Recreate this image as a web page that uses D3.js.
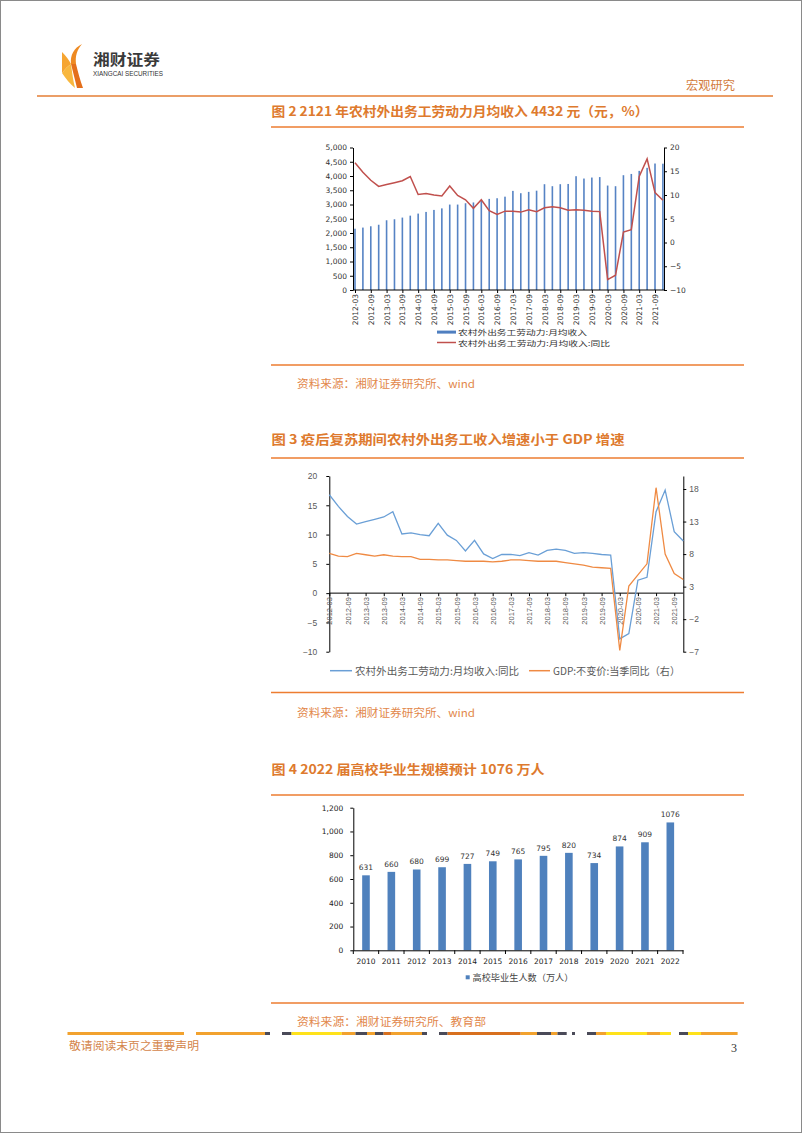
<!DOCTYPE html>
<html><head><meta charset="utf-8">
<script src="https://cdn.jsdelivr.net/npm/d3@7"></script>
<style>
body{margin:0;background:#fff;}
svg{display:block;}
</style></head><body>
<svg id="page" width="802" height="1133"></svg>
<script>
// ---------------- DATA ----------------
const quarters = ["2012-03","2012-06","2012-09","2012-12","2013-03","2013-06","2013-09","2013-12",
  "2014-03","2014-06","2014-09","2014-12","2015-03","2015-06","2015-09","2015-12",
  "2016-03","2016-06","2016-09","2016-12","2017-03","2017-06","2017-09","2017-12",
  "2018-03","2018-06","2018-09","2018-12","2019-03","2019-06","2019-09","2019-12",
  "2020-03","2020-06","2020-09","2020-12","2021-03","2021-06","2021-09","2021-12"];
const axisQuarterLabels = ["2012-03","2012-09","2013-03","2013-09","2014-03","2014-09","2015-03","2015-09",
  "2016-03","2016-09","2017-03","2017-09","2018-03","2018-09","2019-03","2019-09",
  "2020-03","2020-09","2021-03","2021-09"];
const incomeLevel = [2150,2190,2236,2290,2447,2482,2541,2609,2681,2740,2810,2864,2998,2998,3044,3072,
  3138,3197,3220,3275,3478,3396,3443,3485,3712,3642,3712,3721,3993,3911,3946,3962,
  3665,3642,4028,4072,4180,4286,4438,4432];
const incomeYoY = [16.8,14.8,13.1,11.8,12.2,12.6,13.0,13.9,10.1,10.3,10.0,9.8,11.9,9.9,9.0,7.2,
  9.0,6.7,5.9,6.6,6.6,6.4,6.9,6.5,7.3,7.5,7.3,6.8,6.9,6.8,6.6,6.5,
  -7.8,-6.9,2.2,2.7,13.9,17.6,10.5,8.9];
const gdpYoY = [8.1,7.7,7.6,8.1,7.9,7.7,7.9,7.7,7.6,7.6,7.2,7.2,7.1,7.1,7.0,6.9,
  6.9,6.9,6.8,6.9,7.1,7.1,7.0,6.9,6.9,6.9,6.7,6.5,6.3,6.0,5.9,5.8,
  -6.8,3.1,4.8,6.5,18.2,8.0,5.0,4.1];
const c1LeftTicks = [0,500,1000,1500,2000,2500,3000,3500,4000,4500,5000];
const c1RightTicks = [-10,-5,0,5,10,15,20];
const c2LeftTicks = [-10,-5,0,5,10,15,20];
const c2RightTicks = [-7,-2,3,8,13,18];
const gradYears = ["2010","2011","2012","2013","2014","2015","2016","2017","2018","2019","2020","2021","2022"];
const gradCount = [631,660,680,699,727,749,765,795,820,734,874,909,1076];
const c3Ticks = [0,200,400,600,800,1000,1200];
const c1Legend = ["农村外出务工劳动力:月均收入","农村外出务工劳动力:月均收入:同比"];
const c2Legend = ["农村外出务工劳动力:月均收入:同比","GDP:不变价:当季同比（右）"];
const c3Legend = ["高校毕业生人数（万人）"];

// ---------------- PAGE ----------------
const svg = d3.select("#page");
const CJK = "'Noto Sans CJK SC','Noto Sans',sans-serif";
const ORANGE = "#ed7d31";
const TITLE = "#de7a2e";
const SRC = "#e2874a";

function txt(g, x, y, s, opt) {
  opt = opt || {};
  const t = g.append("text").attr("x", x).attr("y", y).text(s)
    .attr("font-family", opt.family || CJK)
    .attr("font-size", opt.size || 10)
    .attr("fill", opt.fill || "#333")
    .attr("dominant-baseline", "central");
  if (opt.weight) t.attr("font-weight", opt.weight);
  if (opt.anchor) t.attr("text-anchor", opt.anchor);
  if (opt.len) t.attr("textLength", opt.len).attr("lengthAdjust", "spacingAndGlyphs");
  return t;
}

svg.append("rect").attr("x",0.5).attr("y",0.5).attr("width",801).attr("height",1132)
  .attr("fill","none").attr("stroke","#8a8a8a").attr("stroke-width",1);

// header logo
const logo = svg.append("g");
logo.append("path").attr("d","M82,44 C74,48 70,55 71,64 L76,64 C75,56 77,50 82,44 Z").attr("fill","#ee8a22");
logo.append("path").attr("d","M62,52 C66,56 69,60 71,64 C68,66 65,69 62,73 Z").attr("fill","#f6a531");
logo.append("path").attr("d","M71,64 L76,64 C78,72 80,80 83,88 L77,88 C75,80 73,72 71,64 Z").attr("fill","#e46f1b");
logo.append("path").attr("d","M62,73 C65,69 68,66 71,64 C72,72 73,80 75,88 C70,84 66,79 62,73 Z").attr("fill","#f8b73e");
txt(svg, 93, 58, "湘财证券", {size:15, weight:"bold", fill:"#3a3a3a", len:67});
txt(svg, 93, 73.5, "XIANGCAI SECURITIES", {size:6.5, family:"'Liberation Sans',sans-serif", fill:"#333", len:70});
txt(svg, 686, 84, "宏观研究", {size:12, fill:"#d27b3c", len:49});
svg.append("line").attr("x1",37).attr("x2",773).attr("y1",96).attr("y2",96)
  .attr("stroke","#e57e34").attr("stroke-width",1.6);

// section frames, titles, sources
function hline(y){ svg.append("line").attr("x1",271).attr("x2",744).attr("y1",y).attr("y2",y)
  .attr("stroke",ORANGE).attr("stroke-width",1.5); }
txt(svg, 271.5, 110, "图  2 2121 年农村外出务工劳动力月均收入 4432 元（元，%）", {size:13, weight:"bold", fill:TITLE, len:377});
hline(127); hline(365);
txt(svg, 297, 383, "资料来源：湘财证券研究所、wind", {size:11, fill:SRC, len:178});
txt(svg, 271.5, 438, "图  3 疫后复苏期间农村外出务工收入增速小于 GDP 增速", {size:13, weight:"bold", fill:TITLE, len:353});
hline(458); hline(692.5);
txt(svg, 297, 712, "资料来源：湘财证券研究所、wind", {size:11, fill:SRC, len:178});
txt(svg, 271.5, 768, "图  4 2022 届高校毕业生规模预计 1076 万人", {size:13, weight:"bold", fill:TITLE, len:273});
hline(795); hline(1003);
txt(svg, 297, 1021, "资料来源：湘财证券研究所、教育部", {size:11, fill:SRC, len:189});

// footer dashed bar
const footSegs = [[67.5,184,"#f2a22e"],[196,265,"#f2a22e"],[265,270,"#4a4a58"],[282,291.5,"#4a4a58"],
  [291.5,341.7,"#ffe21a"],[341.7,355.5,"#f2a22e"],[355.5,367,"#4a4a58"],[367,375,"#f2a22e"],
  [375,383.6,"#4a4a58"],[383.6,391,"#d8701e"],[391,422,"#f2a22e"],[422,427,"#4a4a58"],
  [439,447.6,"#4a4a58"],[447.6,520.7,"#d8701e"],[520.7,537,"#f2a22e"],[537,551,"#4a4a58"],
  [551,557.5,"#f2a22e"],[557.5,566.7,"#4a4a58"],[572,575,"#4a4a58"],[587,596,"#4a4a58"],
  [596,606,"#f2a22e"],[606,647,"#ffe21a"],[647,660,"#f2a22e"],[660,671,"#ffe21a"],
  [679,688,"#4a4a58"],[688,701,"#ffe21a"],[701,737.6,"#f2a22e"]];
svg.append("g").selectAll("rect").data(footSegs).join("rect")
  .attr("x", d => d[0]).attr("width", d => d[1]-d[0]).attr("y",1032).attr("height",3).attr("fill", d => d[2]);
txt(svg, 69, 1045, "敬请阅读末页之重要声明", {size:11.5, fill:"#d4854a", len:130});
txt(svg, 731, 1048, "3", {size:12, family:"'Liberation Serif',serif", fill:"#333"});

// ---------------- CHART 1 ----------------
(function(){
  const g = svg.append("g");
  const x = d3.scalePoint().domain(quarters).range([355, 662.9]);
  const yL = d3.scaleLinear().domain([0,5000]).range([290, 147.5]);
  const yR = d3.scaleLinear().domain([-10,20]).range([290, 147.5]);
  const numFont = "'DejaVu Sans',sans-serif";
  g.append("g").selectAll("rect").data(quarters).join("rect")
    .attr("x", (q) => x(q) - 0.8).attr("width", 1.6)
    .attr("y", (q,i) => yL(incomeLevel[i])).attr("height", (q,i) => yL(0) - yL(incomeLevel[i]))
    .attr("fill", "#5683c4");
  const line = d3.line().x((d,i) => x(quarters[i])).y(d => yR(d));
  g.append("path").datum(incomeYoY).attr("d", line).attr("fill","none")
    .attr("stroke","#c0504d").attr("stroke-width",1.5);
  const la = g.append("g").attr("transform","translate(353,0)")
    .call(d3.axisLeft(yL).tickValues(c1LeftTicks).tickSize(3).tickSizeOuter(0).tickFormat(d3.format(",")));
  const ra = g.append("g").attr("transform","translate(664,0)")
    .call(d3.axisRight(yR).tickValues(c1RightTicks).tickSize(3).tickSizeOuter(0));
  const xa = g.append("g").attr("transform","translate(0,290)")
    .call(d3.axisBottom(x).tickValues(axisQuarterLabels).tickSize(3).tickSizeOuter(0));
  xa.select(".domain").remove();
  g.append("line").attr("x1",353).attr("x2",664).attr("y1",290).attr("y2",290).attr("stroke","#000");
  [la,ra,xa].forEach(a => {
    a.selectAll("text").attr("font-family", numFont).attr("font-size", 7.5).attr("fill","#333");
    a.selectAll("line").attr("stroke","#000");
    a.select(".domain").attr("stroke","#000");
  });
  xa.selectAll("text").attr("transform","rotate(-90)").attr("text-anchor","end")
    .attr("x",-4).attr("y",0).attr("dy","0.35em");
  g.append("rect").attr("x",437).attr("y",330.6).attr("width",19).attr("height",3).attr("fill","#4f7fc0");
  txt(g, 458, 332.0, c1Legend[0], {size:7.2, fill:"#333", len:129});
  g.append("line").attr("x1",437).attr("x2",456).attr("y1",342.5).attr("y2",342.5)
    .attr("stroke","#c0504d").attr("stroke-width",1.5);
  txt(g, 458, 342.6, c1Legend[1], {size:7.2, fill:"#333", len:152});
})();

// ---------------- CHART 2 ----------------
(function(){
  const g = svg.append("g");
  const x = d3.scalePoint().domain(quarters).range([329.3, 683.3]);
  const yL = d3.scaleLinear().domain([-10,20]).range([651.7, 476]);
  const yR = d3.scaleLinear().domain([-7,20]).range([651.7, 476]);
  const f = "'Liberation Sans',sans-serif";
  const la = g.append("g").attr("transform","translate(329.3,0)")
    .call(d3.axisLeft(yL).tickValues(c2LeftTicks).tickSize(3).tickSizeOuter(0).tickPadding(9));
  const ra = g.append("g").attr("transform","translate(683.3,0)")
    .call(d3.axisRight(yR).tickValues(c2RightTicks).tickSize(3).tickSizeOuter(0).tickPadding(3));
  const xa = g.append("g").attr("transform","translate(0," + yL(0) + ")")
    .call(d3.axisBottom(x).tickValues(axisQuarterLabels).tickSize(3).tickSizeOuter(0));
  xa.select(".domain").remove();
  g.append("line").attr("x1",329.3).attr("x2",683.3).attr("y1",yL(0)).attr("y2",yL(0)).attr("stroke","#000");
  [la,ra,xa].forEach(a => {
    a.selectAll("text").attr("font-family", f).attr("font-size", 8.5).attr("fill","#595959");
    a.selectAll("line").attr("stroke","#000");
    a.select(".domain").attr("stroke","#000");
  });
  xa.selectAll("text").attr("font-size",7.5).attr("transform","rotate(-90)").attr("text-anchor","end")
    .attr("x",-4).attr("y",0).attr("dy","0.35em");
  const lineL = d3.line().x((d,i) => x(quarters[i])).y(d => yL(d));
  const lineR = d3.line().x((d,i) => x(quarters[i])).y(d => yR(d));
  g.append("path").datum(incomeYoY).attr("d", lineL).attr("fill","none").attr("stroke","#6a9fd6").attr("stroke-width",1.3);
  g.append("path").datum(gdpYoY).attr("d", lineR).attr("fill","none").attr("stroke","#ef8a43").attr("stroke-width",1.3);
  g.append("line").attr("x1",330).attr("x2",352).attr("y1",670.7).attr("y2",670.7).attr("stroke","#6a9fd6").attr("stroke-width",1.5);
  txt(g, 355, 670.7, c2Legend[0], {size:10.5, fill:"#595959", len:164});
  g.append("line").attr("x1",529).attr("x2",550).attr("y1",670.7).attr("y2",670.7).attr("stroke","#ef8a43").attr("stroke-width",1.5);
  txt(g, 553, 670.7, c2Legend[1], {size:10.5, fill:"#595959", len:127});
})();

// ---------------- CHART 3 ----------------
(function(){
  const g = svg.append("g");
  const x = d3.scaleBand().domain(gradYears).range([353.3, 683]).paddingInner(0.7).paddingOuter(0.35);
  const y = d3.scaleLinear().domain([0,1200]).range([950.3, 807.7]);
  const f = "'DejaVu Sans',sans-serif";
  g.append("g").selectAll("rect").data(gradYears).join("rect")
    .attr("x", d => x(d)).attr("width", x.bandwidth())
    .attr("y", (d,i) => y(gradCount[i])).attr("height", (d,i) => y(0) - y(gradCount[i]))
    .attr("fill","#4f81bd");
  g.append("g").selectAll("text").data(gradYears).join("text")
    .attr("x", d => x(d) + x.bandwidth()/2).attr("y", (d,i) => y(gradCount[i]) - 5)
    .attr("text-anchor","middle").attr("font-family", f).attr("font-size", 7.5).attr("fill","#333")
    .text((d,i) => gradCount[i]);
  const la = g.append("g").attr("transform","translate(353.3,0)")
    .call(d3.axisLeft(y).tickValues(c3Ticks).tickSize(3).tickSizeOuter(0).tickFormat(d3.format(",")).tickPadding(7));
  const xa = g.append("g").attr("transform","translate(0,950.3)")
    .call(d3.axisBottom(x).tickSize(0).tickSizeOuter(0).tickPadding(8));
  const bounds = d3.range(gradYears.length + 1).map(i => 353.3 + i * (683 - 353.3) / gradYears.length);
  g.append("g").selectAll("line").data(bounds).join("line")
    .attr("x1", d => d).attr("x2", d => d).attr("y1", 950.3).attr("y2", 954).attr("stroke","#000");
  [la,xa].forEach(a => {
    a.selectAll("text").attr("font-family", f).attr("font-size", 7.5).attr("fill","#222");
    a.selectAll("line").attr("stroke","#000");
    a.select(".domain").attr("stroke","#000");
  });
  g.append("rect").attr("x",465.7).attr("y",975.3).attr("width",4).attr("height",4).attr("fill","#4f81bd");
  txt(g, 472.5, 977.3, c3Legend[0], {size:9, fill:"#444", len:101});
})();
</script>
</body></html>
